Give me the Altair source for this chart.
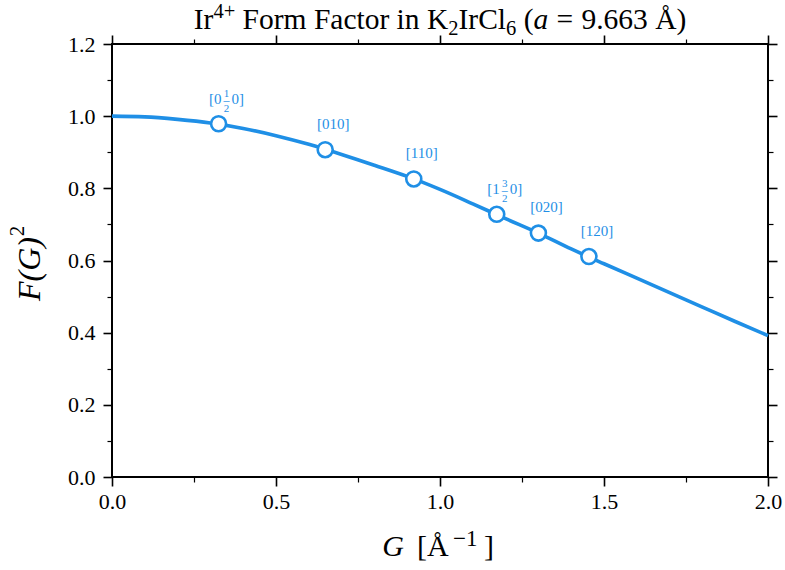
import altair as alt
import pandas as pd

# Ir4+ magnetic form factor squared, sampled along |G|
G_CURVE = [0.0, 0.1, 0.2, 0.3, 0.4, 0.5, 0.6, 0.7, 0.8, 0.9, 1.0,
           1.1, 1.2, 1.3, 1.4, 1.5, 1.6, 1.7, 1.8, 1.9, 2.0]
F2_CURVE = [1.000, 0.998, 0.991, 0.981, 0.966, 0.946, 0.922, 0.894, 0.864, 0.833, 0.797,
            0.757, 0.716, 0.676, 0.632, 0.591, 0.551, 0.511, 0.471, 0.431, 0.392]

# Reflections of K2IrCl6 marked on the curve
PEAK_G = [0.325, 0.650, 0.920, 1.173, 1.300, 1.454]
PEAK_F2 = [0.979, 0.907, 0.826, 0.728, 0.676, 0.611]
PEAK_LABELS = ["[0 1/2 0]", "[010]", "[110]", "[1 3/2 0]", "[020]", "[120]"]

# Tick positions
X_MAJOR = [0.0, 0.5, 1.0, 1.5, 2.0]
X_MINOR = [0.25, 0.75, 1.25, 1.75]
Y_MAJOR = [0.0, 0.2, 0.4, 0.6, 0.8, 1.0, 1.2]
Y_MINOR = [0.1, 0.3, 0.5, 0.7, 0.9, 1.1]

BLUE = "#1f8fe6"
FONT = "Liberation Serif"
W, H = 656, 433

# Times-compatible advance widths (per 1000 em) used to lay out the title pieces
ADVANCE = {" ": 250, "(": 333, ")": 333, "+": 564, ".": 250, "=": 564,
           "C": 667, "F": 556, "I": 333, "K": 722, "a": 444, "c": 444, "i": 278,
           "l": 278, "m": 778, "n": 500, "o": 500, "r": 333, "t": 278, "Å": 722}


def text_width(s, size, italic=False):
    total = 0
    for ch in s:
        if ch.isdigit():
            total += 500
        elif italic and ch == "a":
            total += 500
        else:
            total += ADVANCE.get(ch, 500)
    return total * size / 1000


curve = pd.DataFrame({"G": G_CURVE, "F2": F2_CURVE})
peaks = pd.DataFrame({"G": PEAK_G, "F2": PEAK_F2, "label": PEAK_LABELS})

xs = alt.Scale(domain=[0, 2], nice=False, zero=False)
ys = alt.Scale(domain=[0, 1.2], nice=False, zero=False)


def tick_axis(orient, values, size, width, labels=False, **kw):
    return alt.Axis(orient=orient, values=values, tickSize=size, tickWidth=width,
                    tickColor="black", domain=False, grid=False, labels=labels,
                    title=None, **kw)


label_style = dict(labelFont=FONT, labelFontSize=22, labelColor="black",
                   labelFlush=False, labelOverlap=False)

x_main = tick_axis("bottom", X_MAJOR, 9, 1.6, labels=True, format=".1f",
                   labelPadding=5, **label_style)
y_main = tick_axis("left", Y_MAJOR, 9, 1.6, labels=True, format=".1f",
                   labelPadding=8, **label_style)


def ghost(xaxis, yaxis):
    # invisible layer that only carries an extra set of ticks
    return alt.Chart(curve).mark_line(opacity=0).encode(
        x=alt.X("G:Q", scale=xs, axis=xaxis),
        y=alt.Y("F2:Q", scale=ys, axis=yaxis),
    )


top_major = ghost(tick_axis("top", X_MAJOR, 9, 1.6), tick_axis("right", Y_MAJOR, 9, 1.6))
bottom_minor = ghost(tick_axis("bottom", X_MINOR, 5, 1.2), tick_axis("left", Y_MINOR, 5, 1.2))
top_minor = ghost(tick_axis("top", X_MINOR, 5, 1.2), tick_axis("right", Y_MINOR, 5, 1.2))

line = alt.Chart(curve).mark_line(color=BLUE, strokeWidth=3.6, interpolate="monotone").encode(
    x=alt.X("G:Q", scale=xs, axis=x_main),
    y=alt.Y("F2:Q", scale=ys, axis=y_main),
)

points = alt.Chart(peaks).mark_point(
    shape="circle", filled=True, fill="white", stroke=BLUE, strokeWidth=2.6,
    size=225, opacity=1,
).encode(
    x=alt.X("G:Q", scale=xs, axis=None),
    y=alt.Y("F2:Q", scale=ys, axis=None),
)

# split the Miller-index labels: plain ones and ones with a stacked fraction
plain_rows, frac_rows = [], []
for g, f2, lab in zip(PEAK_G, PEAK_F2, PEAK_LABELS):
    parts = lab.split(" ")
    if len(parts) == 3 and "/" in parts[1]:
        num, den = parts[1].split("/")
        frac_rows.append({"G": g, "F2": f2, "pre": parts[0], "num": num,
                          "den": den, "post": parts[2], "bar": "\u2013"})
    else:
        plain_rows.append({"G": g, "F2": f2, "label": lab})
plain_df = pd.DataFrame(plain_rows)
frac_df = pd.DataFrame(frac_rows)


def label_piece(df, field, size, dx, dy, align, baseline="alphabetic"):
    return alt.Chart(df).mark_text(
        font=FONT, fontSize=size, color=BLUE, dx=dx, dy=dy, align=align, baseline=baseline,
    ).encode(
        x=alt.X("G:Q", scale=xs, axis=None),
        y=alt.Y("F2:Q", scale=ys, axis=None),
        text=f"{field}:N",
    )


label_layers = [
    label_piece(plain_df, "label", 15, 8, -21, "center"),
    label_piece(frac_df, "pre", 15, 3, -20, "right"),
    label_piece(frac_df, "num", 11, 8, -27, "center"),
    label_piece(frac_df, "den", 11, 8, -12, "center"),
    label_piece(frac_df, "post", 15, 13, -20, "left"),
    label_piece(frac_df, "bar", 12, 8, -24, "center", baseline="middle"),
]


def note(text, x, y, size, style="normal", align="left", angle=0, baseline="alphabetic"):
    return alt.Chart(pd.DataFrame({"t": [text]})).mark_text(
        font=FONT, fontSize=size, fontStyle=style, color="black", align=align,
        baseline=baseline, angle=angle,
    ).encode(text="t:N", x=alt.value(x), y=alt.value(y))


# title: Ir^{4+} Form Factor in K_2IrCl_6 (a = 9.663 Å)
# each piece: text, font size, style, vertical shift, space before it (em of TF)
TF, TS = 29.5, 20.5
title_spec = [
    ("Ir", TF, "normal", 0, 0.0),
    ("4+", TS, "normal", -11, 0.0),
    ("Form Factor in K", TF, "normal", 0, 0.25),
    ("2", TS, "normal", 5.5, 0.0),
    ("IrCl", TF, "normal", 0, 0.0),
    ("6", TS, "normal", 5.5, 0.0),
    ("(", TF, "normal", 0, 0.25),
    ("a", TF, "italic", 0, 0.0),
    ("=", TF, "normal", 0, 0.28),
    ("9.663", TF, "normal", 0, 0.28),
    ("Å)", TF, "normal", 0, 0.25),
]
title_total = sum(text_width(t, s, st == "italic") + gap * TF
                  for t, s, st, _, gap in title_spec)
cursor = W / 2 - title_total / 2
title_base = -15
title_parts = []
for t, s, st, shift, gap in title_spec:
    cursor += gap * TF
    title_parts.append(note(t, cursor, title_base + shift, s, style=st, align="left"))
    cursor += text_width(t, s, st == "italic")

xtitle_parts = [
    note("G", 281, 512, 30, style="italic", align="center"),
    note("[Å", 305, 512, 30),
    note("−1", 341, 502, 23),
    note("]", 372, 512, 30),
]

ytitle_parts = [
    note("F(G)", -72, 225, 32, style="italic", align="center", angle=270),
    note("2", -88, 187, 21, align="center", angle=270),
]

chart = alt.layer(
    top_major, bottom_minor, top_minor, line, points, *label_layers,
    *title_parts, *xtitle_parts, *ytitle_parts,
).resolve_scale(
    x="independent", y="independent"
).properties(
    width=W, height=H,
    padding={"left": 112, "top": 44, "right": 17, "bottom": 93},
    autosize=alt.AutoSizeParams(type="none"),
    background="white",
).configure_view(
    stroke="black", strokeWidth=2
)

chart.save("out.html", embed_options={"renderer": "svg", "actions": False})
